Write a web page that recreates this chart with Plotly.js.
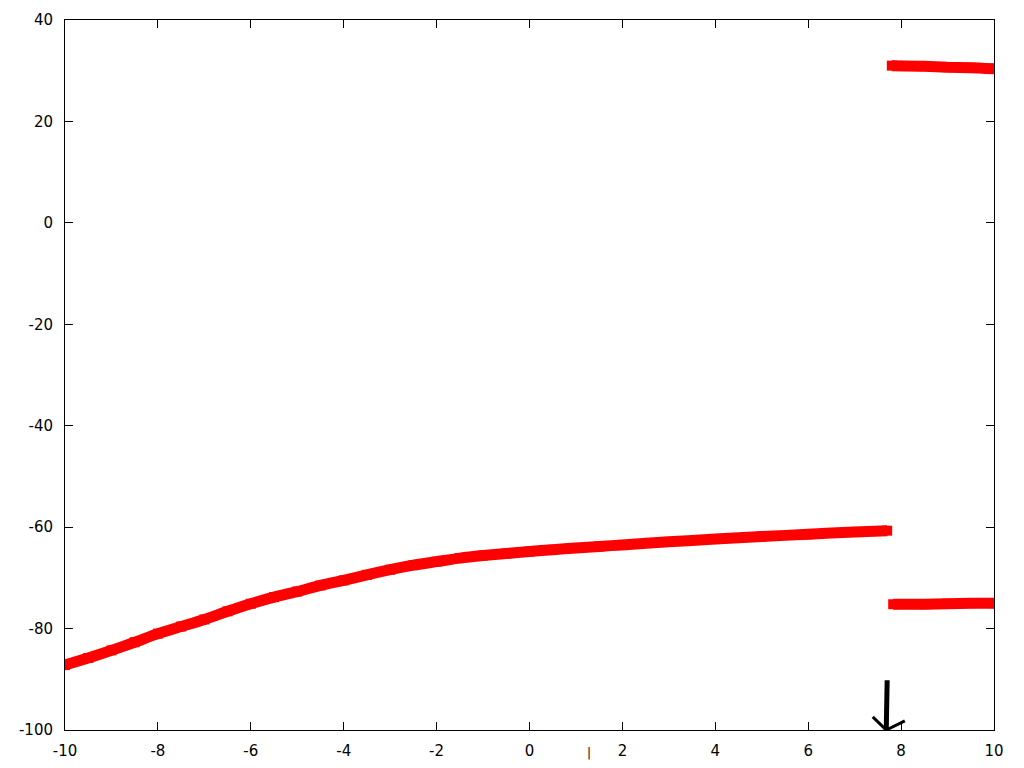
<!DOCTYPE html>
<html>
<head>
<meta charset="utf-8">
<script src="https://cdn.plot.ly/plotly-3.0.1.min.js"></script>
<style>
  html, body { margin: 0; padding: 0; background: #fff; }
  #chart { width: 1024px; height: 768px; }
</style>
</head>
<body>
<div id="chart"></div>
<script>
// main branch
const mainX = [-10, -9.5, -9, -8.5, -8, -7.5, -7, -6.5, -6, -5.5, -5, -4.5, -4, -3.5, -3, -2.5, -2, -1.5, -1, -0.5, 0, 0.5, 1, 1.5, 2, 3, 4, 5, 6, 7, 7.7];
const mainY = [-87.2, -85.8, -84.3, -82.7, -81.0, -79.6, -78.2, -76.6, -75.1, -73.8, -72.7, -71.5, -70.5, -69.4, -68.4, -67.5, -66.8, -66.1, -65.6, -65.2, -64.8, -64.45, -64.1, -63.8, -63.5, -62.9, -62.35, -61.85, -61.4, -60.95, -60.7];

// upper and lower branches after the jump
const upperX = [7.8, 8.5, 9, 9.5, 10];
const upperY = [31.0, 30.9, 30.7, 30.6, 30.4];
const lowerX = [7.83, 8.5, 9, 9.5, 10];
const lowerY = [-75.2, -75.2, -75.1, -75.0, -75.0];

// arrow pointing at the jump
const arrowTail = [7.70, -90.2];
const arrowTip = [7.68, -100];
const headLeft = [7.39, -97.4];
const headRight = [8.08, -98.2];

const xTicks = [-10, -8, -6, -4, -2, 0, 2, 4, 6, 8, 10];
const yTicks = [-100, -80, -60, -40, -20, 0, 20, 40];

const RED = '#ff0000';

function branch(x, y) {
    return {
        x: x, y: y,
        type: 'scatter', mode: 'lines+markers',
        line: { color: RED, width: 11, shape: 'spline', smoothing: 0.6 },
        marker: { color: RED, symbol: 'square', size: 10 },
        hoverinfo: 'x+y',
        showlegend: false,
    };
}

const traces = [branch(mainX, mainY), branch(upperX, upperY), branch(lowerX, lowerY)];

const axisStyle = {
    showgrid: false, zeroline: false,
    showline: true, mirror: 'ticks',
    linecolor: '#000', linewidth: 1,
    ticks: 'inside', ticklen: 8, tickcolor: '#000', tickwidth: 1,
    tickfont: { family: 'DejaVu Sans', size: 15, color: '#000' },
};

const seg = (a, b, w) => ({
    type: 'line', xref: 'x', yref: 'y',
    x0: a[0], y0: a[1], x1: b[0], y1: b[1],
    line: { color: '#000', width: w },
});

const layout = {
    width: 1024, height: 768,
    margin: { l: 65, r: 30, t: 20, b: 38 },
    paper_bgcolor: '#fff', plot_bgcolor: '#fff',
    showlegend: false,
    xaxis: Object.assign({}, axisStyle, {
        range: [-10, 10], tickvals: xTicks, ticktext: xTicks.map(String),
        ticklabelstandoff: 7,
    }),
    yaxis: Object.assign({}, axisStyle, {
        range: [-100, 40], tickvals: yTicks, ticktext: yTicks.map(String),
        ticklabelstandoff: 8,
    }),
    shapes: [
        seg(arrowTail, arrowTip, 5),
        seg(headLeft, arrowTip, 3),
        seg(headRight, arrowTip, 3),
    ],
    annotations: [{
        x: 1.28, xref: 'x', y: -0.032, yref: 'paper', yanchor: 'middle',
        text: '|', showarrow: false,
        font: { family: 'DejaVu Sans', size: 12, color: '#000' },
    }],
};

Plotly.newPlot('chart', traces, layout, { displayModeBar: false, staticPlot: true });
</script>
</body>
</html>
